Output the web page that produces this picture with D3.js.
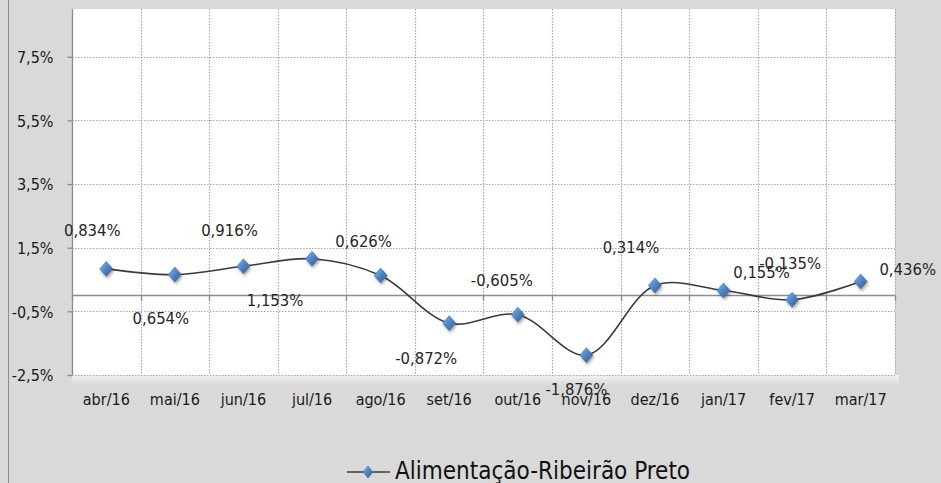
<!DOCTYPE html>
<html>
<head>
<meta charset="utf-8">
<script src="https://cdn.jsdelivr.net/npm/d3@7"></script>
<style>
  html, body { margin: 0; padding: 0; background: #d9d9d9; }
  svg { display: block; }
  .tick-label { font-family: "DejaVu Sans Condensed", "DejaVu Sans", sans-serif; font-stretch: condensed; font-size: 16px; fill: #1a1a1a; }
  .data-label { font-family: "DejaVu Sans Condensed", "DejaVu Sans", sans-serif; font-stretch: condensed; font-size: 16.5px; fill: #262626; }
  .legend-label { font-family: "Liberation Sans Narrow", "DejaVu Sans Condensed", sans-serif; font-stretch: condensed; font-size: 24px; fill: #111; }
</style>
</head>
<body>
<svg id="chart" width="941" height="483"></svg>
<script>
// data
let months = ["abr/16", "mai/16", "jun/16", "jul/16", "ago/16", "set/16",
              "out/16", "nov/16", "dez/16", "jan/17", "fev/17", "mar/17"];
let values = [0.834, 0.654, 0.916, 1.153, 0.626, -0.872,
              -0.605, -1.876, 0.314, 0.155, -0.135, 0.436];
let valueLabels = ["0,834%", "0,654%", "0,916%", "1,153%", "0,626%", "-0,872%",
                   "-0,605%", "-1,876%", "0,314%", "0,155%", "-0,135%", "0,436%"];
let yTicks = [-2.5, -0.5, 1.5, 3.5, 5.5, 7.5];
let yTickLabels = ["-2,5%", "-0,5%", "1,5%", "3,5%", "5,5%", "7,5%"];
let seriesName = "Alimentação-Ribeirão Preto";

// label placement (manually moved in the original), in px from the marker
let labelOffsets = [[-14, -33], [-14, 49], [-14, -30], [-37, 47], [-17, -29], [-23, 41],
                    [-16, -29], [-10, 40], [-24, -32], [38, -13], [-2, -31], [47, -7]];

const svg = d3.select("#chart");
const plot = { left: 72, right: 895, top: 9, bottom: 375 };

let x = d3.scaleBand().domain(months).range([plot.left, plot.right]).padding(0);
let y = d3.scaleLinear().domain([-2.5, 9]).range([plot.bottom, plot.top]);

let defs = svg.append("defs");
let grad = defs.append("linearGradient").attr("id", "mk")
    .attr("x1", 0).attr("y1", 0).attr("x2", 1).attr("y2", 1);
grad.append("stop").attr("offset", "0%").attr("stop-color", "#8fb4e3");
grad.append("stop").attr("offset", "55%").attr("stop-color", "#4a7ebf");
grad.append("stop").attr("offset", "100%").attr("stop-color", "#2f5f9e");
let sh = defs.append("filter").attr("id", "sh").attr("x", "-50%").attr("y", "-50%").attr("width", "200%").attr("height", "200%");
sh.append("feDropShadow").attr("dx", 1).attr("dy", 2).attr("stdDeviation", 1.5)
    .attr("flood-color", "#000").attr("flood-opacity", 0.35);
let shade = defs.append("linearGradient").attr("id", "shade").attr("x1", 0).attr("y1", 0).attr("x2", 0).attr("y2", 1);
shade.append("stop").attr("offset", "0%").attr("stop-color", "#f3f3ee");
shade.append("stop").attr("offset", "100%").attr("stop-color", "#d9d9d9");

// outer frame
svg.append("line").attr("x1", 8.5).attr("x2", 8.5).attr("y1", 0).attr("y2", 483)
    .attr("stroke", "#8c8c8c").attr("stroke-width", 1);

// plot area + soft shadow
svg.append("rect").attr("x", plot.left).attr("y", plot.bottom)
    .attr("width", plot.right - plot.left + 4).attr("height", 10).attr("fill", "url(#shade)");
svg.append("rect").attr("x", plot.left).attr("y", plot.top)
    .attr("width", plot.right - plot.left).attr("height", plot.bottom - plot.top).attr("fill", "#fff");

// gridlines
let grid = svg.append("g").attr("stroke", "#a6a6a6").attr("stroke-width", 1.2).attr("stroke-dasharray", "1.5,1.5");
grid.selectAll(".hg").data(yTicks).join("line")
    .attr("x1", plot.left).attr("x2", plot.right)
    .attr("y1", d => Math.round(y(d)) + 0.5).attr("y2", d => Math.round(y(d)) + 0.5);
grid.selectAll(".vg").data(months).join("line")
    .attr("x1", d => Math.round(x(d) + x.bandwidth()) + 0.5)
    .attr("x2", d => Math.round(x(d) + x.bandwidth()) + 0.5)
    .attr("y1", plot.top).attr("y2", plot.bottom);

// y axis
let yAxis = svg.append("g").attr("transform", `translate(${plot.left + 0.5},0)`)
    .call(d3.axisLeft(y).tickValues(yTicks).tickSize(5).tickFormat((d, i) => yTickLabels[i]));
yAxis.select(".domain").attr("d", `M0,${plot.top}V${plot.bottom}`).attr("stroke", "#8c8c8c").attr("stroke-width", 1.3);
yAxis.selectAll(".tick line").attr("stroke", "#8c8c8c").attr("stroke-width", 1.3);
yAxis.selectAll(".tick text").attr("class", "tick-label").attr("x", -19).attr("dy", "0.36em");

// x axis on zero line, labels below the plot
let xAxis = svg.append("g").attr("transform", `translate(0,${Math.round(y(0)) + 0.5})`);
xAxis.append("line").attr("x1", plot.left).attr("x2", plot.right)
    .attr("stroke", "#8c8c8c").attr("stroke-width", 1.3);
xAxis.selectAll(".xt").data([plot.left].concat(months.map(m => x(m) + x.bandwidth()))).join("line")
    .attr("x1", d => Math.round(d) + 0.5).attr("x2", d => Math.round(d) + 0.5)
    .attr("y1", 0).attr("y2", 5).attr("stroke", "#8c8c8c").attr("stroke-width", 1.3);
svg.append("g").selectAll("text").data(months).join("text")
    .attr("class", "tick-label").attr("text-anchor", "middle")
    .attr("x", d => x(d) + x.bandwidth() / 2).attr("y", 405)
    .text(d => d);

// series
let pts = months.map((m, i) => [x(m) + x.bandwidth() / 2, y(values[i])]);
svg.append("path").datum(pts)
    .attr("d", d3.line().curve(d3.curveCatmullRom.alpha(0.5)))
    .attr("fill", "none").attr("stroke", "#3a3a3a").attr("stroke-width", 1.6);

let diamond = (w, h) => `M0,${-h}L${w},0L0,${h}L${-w},0Z`;
svg.append("g").selectAll("path").data(pts).join("path")
    .attr("transform", d => `translate(${d[0]},${d[1]})`)
    .attr("d", diamond(6.5, 7.5))
    .attr("fill", "url(#mk)").attr("stroke", "#3d6ca8").attr("stroke-width", 0.6)
    .attr("filter", "url(#sh)");

svg.append("g").selectAll("text").data(pts).join("text")
    .attr("class", "data-label").attr("text-anchor", "middle")
    .attr("x", (d, i) => d[0] + labelOffsets[i][0])
    .attr("y", (d, i) => d[1] + labelOffsets[i][1])
    .text((d, i) => valueLabels[i]);

// legend
let lg = svg.append("g").attr("transform", "translate(347,472)");
lg.append("line").attr("x1", 0).attr("x2", 43).attr("stroke", "#3a3a3a").attr("stroke-width", 1.6);
lg.append("path").attr("transform", "translate(21,0)").attr("d", diamond(5, 6))
    .attr("fill", "url(#mk)").attr("stroke", "#3d6ca8").attr("stroke-width", 0.6);
lg.append("text").attr("class", "legend-label").attr("x", 48).attr("y", 7).text(seriesName);
</script>
</body>
</html>
